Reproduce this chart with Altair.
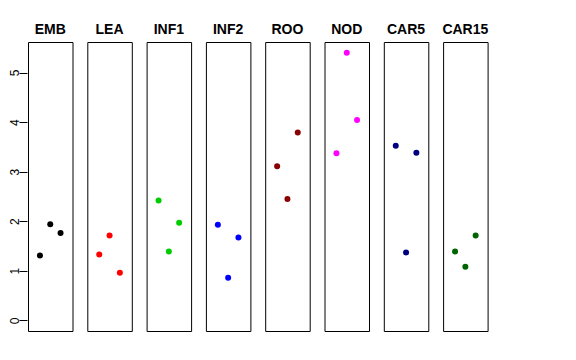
import altair as alt
import pandas as pd

tissues = ["EMB", "LEA", "INF1", "INF2", "ROO", "NOD", "CAR5", "CAR15"]
colors = ["#000000", "#FF0000", "#00CD00", "#0000FF", "#8B0000", "#FF00FF", "#000080", "#006400"]
xpos = [1, 2, 3]
values = {
    "EMB": [1.31, 1.94, 1.76],
    "LEA": [1.33, 1.71, 0.96],
    "INF1": [2.42, 1.39, 1.97],
    "INF2": [1.93, 0.86, 1.67],
    "ROO": [3.11, 2.45, 3.79],
    "NOD": [3.37, 5.40, 4.04],
    "CAR5": [3.52, 1.37, 3.38],
    "CAR15": [1.39, 1.08, 1.71],
}
y_ticks = [0, 1, 2, 3, 4, 5]

rows = []
for t in tissues:
    for xv, yv in zip(xpos, values[t]):
        rows.append({"tissue": t, "x": xv, "y": yv})
df = pd.DataFrame(rows)

ymax = max(max(v) for v in values.values())
ypad = ymax * 0.04

base = alt.Chart(df).mark_circle(size=36, opacity=1).encode(
    x=alt.X("x:Q", scale=alt.Scale(domain=[-0.16, 4.16], nice=False, zero=False), axis=None),
    y=alt.Y("y:Q", scale=alt.Scale(domain=[-ypad, ymax + ypad], nice=False, zero=False),
            axis=alt.Axis(values=y_ticks, title=None, grid=False, domain=False,
                          tickSize=8, tickColor="#000000", labelColor="#000000",
                          labelFontSize=12, labelFont="Liberation Sans", labelAngle=-90,
                          labelPadding=-2)),
    color=alt.Color("tissue:N", scale=alt.Scale(domain=tissues, range=colors), legend=None),
).properties(width=44.5, height=289)

chart = base.facet(
    column=alt.Column("tissue:N", sort=tissues,
                      header=alt.Header(title=None, labelFontSize=14, labelFontWeight="bold",
                                        labelFont="Liberation Sans", labelColor="#000000",
                                        labelPadding=4)),
    spacing=13.3,
).properties(
    padding={"left": 0, "top": 15, "right": 0, "bottom": 0}
).configure(background="white").configure_view(stroke="#000000", strokeWidth=1)

chart.save("out.html", embed_options={"renderer": "svg", "actions": False})
